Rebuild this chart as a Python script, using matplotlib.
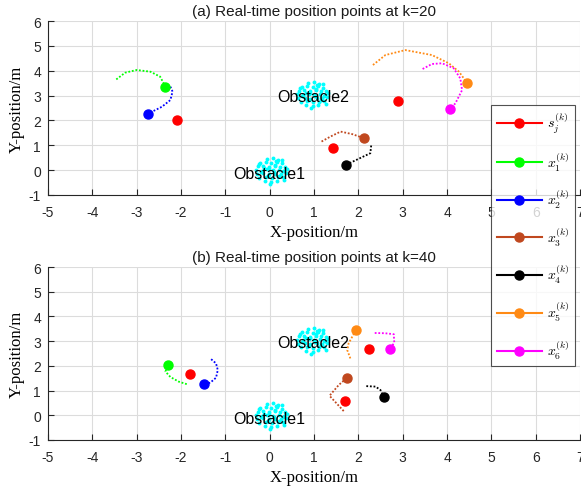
import matplotlib
matplotlib.use("Agg")
import matplotlib.pyplot as plt
from matplotlib.lines import Line2D

plt.rcParams['mathtext.fontset'] = 'cm'
plt.rcParams['font.family'] = ['Liberation Sans', 'DejaVu Sans']
plt.rcParams['axes.unicode_minus'] = False

# ---------------- data ----------------
panel_titles = ["(a) Real-time position points at k=20",
                "(b) Real-time position points at k=40"]
x_ticks = [-5, -4, -3, -2, -1, 0, 1, 2, 3, 4, 5, 6, 7]
y_ticks = [-1, 0, 1, 2, 3, 4, 5, 6]

legend_labels = [r"$s_j^{(k)}$", r"$x_1^{(k)}$", r"$x_2^{(k)}$", r"$x_3^{(k)}$",
                 r"$x_4^{(k)}$", r"$x_5^{(k)}$", r"$x_6^{(k)}$"]
colors = ['#FF0000', '#00FF00', '#0000FF', '#C0481F', '#000000', '#FF8A14', '#FF00FF']

# targets s_j
targets_x = [[-2.08, 1.42, 2.89], [-1.79, 1.71, 2.23]]
targets_y = [[2.00, 0.88, 2.79], [1.69, 0.59, 2.67]]

# agent trails (k=20) ; last point is the current position
trail20_x = [
    [-3.46, -3.26, -3.00, -2.69, -2.47, -2.35],
    [-2.24, -2.19, -2.24, -2.43, -2.62, -2.75],
    [1.17, 1.37, 1.60, 1.86, 2.12],
    [2.29, 2.27, 2.00, 1.73],
    [2.33, 2.61, 3.06, 3.66, 4.04, 4.27, 4.38, 4.45],
    [3.45, 3.66, 3.89, 4.15, 4.30, 4.34, 4.19, 4.06],
]
trail20_y = [
    [3.65, 3.92, 4.03, 3.96, 3.76, 3.35],
    [3.36, 3.16, 2.82, 2.55, 2.38, 2.27],
    [1.15, 1.35, 1.55, 1.45, 1.29],
    [0.99, 0.68, 0.45, 0.22],
    [4.23, 4.63, 4.83, 4.63, 4.30, 3.96, 3.69, 3.50],
    [4.07, 4.27, 4.30, 4.10, 3.69, 3.22, 2.69, 2.44],
]
# agent trails (k=40)
trail40_x = [
    [-1.87, -2.05, -2.24, -2.35, -2.30],
    [-1.32, -1.21, -1.17, -1.21, -1.34, -1.47],
    [1.67, 1.35, 1.56, 1.75],
    [2.18, 2.39, 2.50, 2.57],
    [1.82, 1.75, 1.78, 1.86, 1.95],
    [2.37, 2.60, 2.80, 2.81, 2.72],
]
trail40_y = [
    [1.26, 1.36, 1.55, 1.77, 2.03],
    [2.27, 2.10, 1.83, 1.52, 1.32, 1.25],
    [0.17, 0.79, 1.23, 1.52],
    [1.18, 1.16, 1.02, 0.75],
    [2.30, 2.64, 2.91, 3.17, 3.44],
    [3.33, 3.32, 3.28, 2.95, 2.67],
]

# obstacle point clouds (offsets from centres, read by eye)
obs_dx = [-0.10, 0.04, 0.15, -0.24, -0.11, 0.01, 0.13, 0.25, -0.30, -0.18, -0.05,
          0.08, 0.20, 0.31, -0.34, -0.21, -0.08, 0.05, 0.17, 0.29, 0.36, -0.31,
          -0.17, -0.04, 0.10, 0.22, 0.33, -0.26, -0.12, 0.02, 0.15, 0.27, -0.13,
          0.01, 0.14, -0.02, 0.24, -0.27, 0.30, 0.09, -0.04, 0.07, 0.19, -0.15,
          0.11, -0.22, 0.26, -0.07]
obs_dy = [0.46, 0.50, 0.42, 0.30, 0.33, 0.28, 0.34, 0.27, 0.15, 0.17, 0.12,
          0.16, 0.14, 0.13, 0.01, -0.02, 0.03, -0.01, 0.02, -0.03, 0.05, -0.15,
          -0.13, -0.17, -0.14, -0.16, -0.12, -0.30, -0.28, -0.32, -0.29, -0.27, -0.44,
          -0.47, -0.42, -0.56, 0.40, 0.24, -0.40, 0.22, 0.06, -0.07, -0.22, 0.07,
          0.38, -0.07, -0.05, -0.23]
obstacle_cx = [0.03, 0.96]
obstacle_cy = [0.00, 3.05]
obstacle_names = ["Obstacle1", "Obstacle2"]
obstacle_label_x = [0.0, 0.99]
obstacle_label_y = [-0.15, 2.95]

# ---------------- figure ----------------
fig = plt.figure(figsize=(5.81, 4.89), dpi=100)
W, H = 581, 489
ax_top = fig.add_axes([48 / W, 1 - 196 / H, (580 - 48) / W, 174 / H])
ax_bot = fig.add_axes([48 / W, 1 - 441 / H, (580 - 48) / W, 173 / H])

panels = [(ax_top, trail20_x, trail20_y), (ax_bot, trail40_x, trail40_y)]
for p, (ax, tx, ty) in enumerate(panels):
    ax.set_xlim(-5, 7)
    ax.set_ylim(-1, 6)
    ax.set_xticks(x_ticks)
    ax.set_yticks(y_ticks)
    ax.grid(True, color='#DCDCDC', linewidth=0.8)
    ax.set_axisbelow(True)
    for s in ['top', 'right']:
        ax.spines[s].set_visible(False)
    for s in ['left', 'bottom']:
        ax.spines[s].set_color('#262626')
        ax.spines[s].set_linewidth(0.8)
    ax.tick_params(direction='in', length=4, width=0.8, color='#262626',
                   labelsize=10, labelcolor='#262626')
    ax.tick_params(axis='x', pad=7)
    ax.tick_params(axis='y', pad=5)
    ax.set_title(panel_titles[p], fontsize=11, pad=4, color='#1a1a1a')
    ax.set_xlabel("X-position/m", family=['Liberation Serif'], fontsize=12, labelpad=4)
    ax.set_ylabel("Y-position/m", family=['Liberation Serif'], fontsize=12, labelpad=3)

    # obstacles
    for o in range(2):
        ax.plot([obstacle_cx[o] + d for d in obs_dx],
                [obstacle_cy[o] + d for d in obs_dy],
                linestyle='none', marker='o', markersize=2.8,
                color='#00FFFF', markeredgewidth=0, zorder=2)
        ax.text(obstacle_label_x[o], obstacle_label_y[o], obstacle_names[o],
                fontsize=11.5, ha='center', va='center', color='black', zorder=3)

    # trails and current positions
    for i in range(6):
        ax.plot(tx[i], ty[i], linestyle=(0, (1, 1)), linewidth=1.3,
                color=colors[i + 1], zorder=4)
        ax.plot(tx[i][-1], ty[i][-1], linestyle='none', marker='o', markersize=6.5,
                color=colors[i + 1], zorder=5)
    ax.plot(targets_x[p], targets_y[p], linestyle='none', marker='o', markersize=6.5,
            color=colors[0], zorder=5)

handles = [Line2D([0], [0], color=c, marker='o', markersize=6.5, linewidth=1.5)
           for c in colors]
leg = fig.legend(handles, legend_labels, loc='upper left',
                 bbox_to_anchor=(491 / W, 1 - 106 / H), fontsize=10,
                 frameon=True, fancybox=False, edgecolor='#262626',
                 handlelength=3.3, labelspacing=1.08, borderpad=0.4,
                 handletextpad=0.3, borderaxespad=0)
leg.get_frame().set_linewidth(0.8)
leg.set_zorder(10)

fig.savefig("out.png", dpi=100)
